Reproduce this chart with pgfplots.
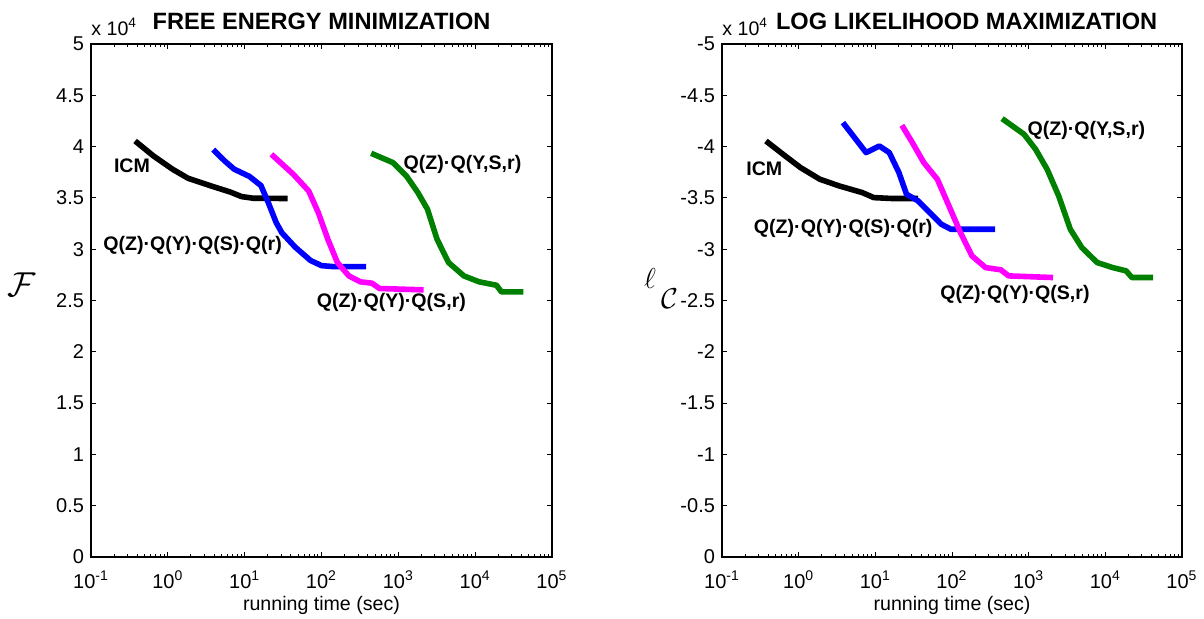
\documentclass[border=0pt]{standalone}
\usepackage{pgfplots}
\pgfplotsset{compat=1.18}
\usepackage{fontspec}
\setmainfont{Liberation Sans}

\definecolor{mblue}{rgb}{0,0,1}
\definecolor{mmag}{rgb}{1,0,1}
\definecolor{mgreen}{rgb}{0,0.5,0}

\tikzset{curvelab/.style={anchor=west, inner sep=0pt, font=\fontsize{9.8}{12}\selectfont\bfseries}}

\begin{document}
\begin{tikzpicture}
\path[use as bounding box] (0,0) rectangle (602pt,309pt);

% ---- left: free energy ----
\begin{axis}[
    at={(45.5pt,30.5pt)}, anchor=south west,
    scale only axis, width=230.5pt, height=256.5pt,
    xmode=log, xmin=0.1, xmax=100000,
    xtick={0.1,1,10,100,1000,10000,100000},
    minor xtick={0.2,0.3,0.4,0.5,0.6,0.7,0.8,0.9,2,3,4,5,6,7,8,9,20,30,40,50,60,70,80,90,200,300,400,500,600,700,800,900,2000,3000,4000,5000,6000,7000,8000,9000,20000,30000,40000,50000,60000,70000,80000,90000},
    xticklabels={10\textsuperscript{-1},10\textsuperscript{0},10\textsuperscript{1},10\textsuperscript{2},10\textsuperscript{3},10\textsuperscript{4},10\textsuperscript{5}},
    xticklabel style={anchor=base, yshift=-15.5pt},
    axis line style={line width=0.7pt},
    every tick/.style={black, line width=0.5pt},
    major tick length=2.5pt, minor tick length=1.5pt,
    tick label style={font=\fontsize{10}{12}\selectfont},
    xlabel={running time (sec)},
    xlabel style={font=\fontsize{9.8}{11}\selectfont, at={(axis description cs:0.5,0)}, anchor=base, yshift=-26.5pt},
    title={FREE ENERGY MINIMIZATION},
    title style={font=\fontsize{11.8}{13}\selectfont\bfseries, at={(axis description cs:0.5,1)}, anchor=base, yshift=1.4pt},
    clip=false,
    ymin=0, ymax=5,
    ytick={0,0.5,1,1.5,2,2.5,3,3.5,4,4.5,5},
    yticklabels={0,0.5,1,1.5,2,2.5,3,3.5,4,4.5,5},
]
\addplot[black, line width=2.8pt, line join=round, mark=none] coordinates {
(0.375,4.055) (0.65,3.909) (1.154,3.779) (1.83,3.692) (3.64,3.617) (6.46,3.558) (9.12,3.513) (12.9,3.497) (36.2,3.494)
};
\addplot[mblue, line width=2.8pt, line join=round, mark=none] coordinates {
(3.9,3.97) (5.5,3.86) (7.3,3.78) (11.5,3.71) (16.3,3.62) (20.4,3.45) (25.7,3.26) (30.5,3.16) (45.5,3.02) (72,2.89) (100,2.84) (145,2.83) (381,2.83)
};
\addplot[mmag, line width=2.8pt, line join=round, mark=none] coordinates {
(22.3,3.925) (43,3.73) (68.1,3.568) (90.8,3.357) (121,3.097) (161,2.870) (227,2.740) (321,2.682) (453,2.669) (570,2.617) (2133,2.604)
};
\addplot[mgreen, line width=2.8pt, line join=round, mark=none] coordinates {
(443,3.935) (851,3.844) (1273,3.714) (1796,3.552) (2393,3.390) (3190,3.097) (4500,2.870) (7130,2.740) (11270,2.682) (18900,2.649) (21970,2.584) (42270,2.584)
};
\node[curvelab] at (axis cs:0.197,3.812) {ICM};
\node[curvelab] at (axis cs:0.143,3.032) {Q(Z)·Q(Y)·Q(S)·Q(r)};
\node[curvelab] at (axis cs:85.7,2.481) {Q(Z)·Q(Y)·Q(S,r)};
\node[curvelab] at (axis cs:1161,3.828) {Q(Z)·Q(Y,S,r)};
\node[anchor=base west, inner sep=0pt, font=\fontsize{9.8}{11}\selectfont, yshift=4.5pt] at (rel axis cs:0,1) {x 10\textsuperscript{4}};
\node[xshift=-34.5pt] at (rel axis cs:0,0.531) {\fontsize{16.5}{16.5}\selectfont$\mathcal{F}$};
\end{axis}

% ---- right: log likelihood ----
\begin{axis}[
    at={(361pt,30.5pt)}, anchor=south west,
    scale only axis, width=230pt, height=256.5pt,
    xmode=log, xmin=0.1, xmax=100000,
    xtick={0.1,1,10,100,1000,10000,100000},
    minor xtick={0.2,0.3,0.4,0.5,0.6,0.7,0.8,0.9,2,3,4,5,6,7,8,9,20,30,40,50,60,70,80,90,200,300,400,500,600,700,800,900,2000,3000,4000,5000,6000,7000,8000,9000,20000,30000,40000,50000,60000,70000,80000,90000},
    xticklabels={10\textsuperscript{-1},10\textsuperscript{0},10\textsuperscript{1},10\textsuperscript{2},10\textsuperscript{3},10\textsuperscript{4},10\textsuperscript{5}},
    xticklabel style={anchor=base, yshift=-15.5pt},
    axis line style={line width=0.7pt},
    every tick/.style={black, line width=0.5pt},
    major tick length=2.5pt, minor tick length=1.5pt,
    tick label style={font=\fontsize{10}{12}\selectfont},
    xlabel={running time (sec)},
    xlabel style={font=\fontsize{9.8}{11}\selectfont, at={(axis description cs:0.5,0)}, anchor=base, yshift=-26.5pt},
    title={LOG LIKELIHOOD MAXIMIZATION},
    title style={font=\fontsize{11.8}{13}\selectfont\bfseries, at={(axis description cs:0.5,1)}, anchor=base, yshift=1.4pt, xshift=7.3pt},
    clip=false,
    y dir=reverse,
    ymin=-5, ymax=0,
    ytick={-5,-4.5,-4,-3.5,-3,-2.5,-2,-1.5,-1,-0.5,0},
    yticklabels={-5,-4.5,-4,-3.5,-3,-2.5,-2,-1.5,-1,-0.5,0},
]
\addplot[black, line width=2.8pt, line join=round, mark=none] coordinates {
(0.374,-4.055) (0.667,-3.909) (1.06,-3.795) (1.89,-3.682) (3.37,-3.617) (6.75,-3.552) (9.55,-3.503) (17.0,-3.494) (36.1,-3.494)
};
\addplot[mblue, line width=2.8pt, line join=round, mark=none] coordinates {
(3.78,-4.234) (7.57,-3.942) (11.3,-4.006) (15.2,-3.942) (20.3,-3.747) (25.5,-3.536) (36.1,-3.471) (51.2,-3.357) (72.3,-3.244) (96.6,-3.195) (366,-3.195)
};
\addplot[mmag, line width=2.8pt, line join=round, mark=none] coordinates {
(22.2,-4.208) (30.4,-4.039) (42.9,-3.844) (64.4,-3.682) (91.2,-3.422) (129,-3.162) (182,-2.935) (274,-2.821) (434,-2.799) (548,-2.740) (2075,-2.724)
};
\addplot[mgreen, line width=2.8pt, line join=round, mark=none] coordinates {
(450,-4.273) (871,-4.120) (1231,-3.974) (1741,-3.779) (2465,-3.519) (3490,-3.195) (4935,-3.016) (7830,-2.870) (12450,-2.821) (18660,-2.789) (22210,-2.724) (41980,-2.724)
};
\node[curvelab] at (axis cs:0.205,-3.786) {ICM};
\node[curvelab] at (axis cs:0.258,-3.201) {Q(Z)·Q(Y)·Q(S)·Q(r)};
\node[curvelab] at (axis cs:69.8,-2.562) {Q(Z)·Q(Y)·Q(S,r)};
\node[curvelab] at (axis cs:955,-4.162) {Q(Z)·Q(Y,S,r)};
\node[anchor=base west, inner sep=0pt, font=\fontsize{9.8}{11}\selectfont, yshift=4.5pt] at (rel axis cs:0,1) {x 10\textsuperscript{4}};
\node[xshift=-30.5pt] at (rel axis cs:0,0.524) {\fontsize{14}{14}\selectfont$\ell$\hspace{2.5pt}\raisebox{-10pt}{$\mathcal{C}$}};
\end{axis}
\end{tikzpicture}
\end{document}
